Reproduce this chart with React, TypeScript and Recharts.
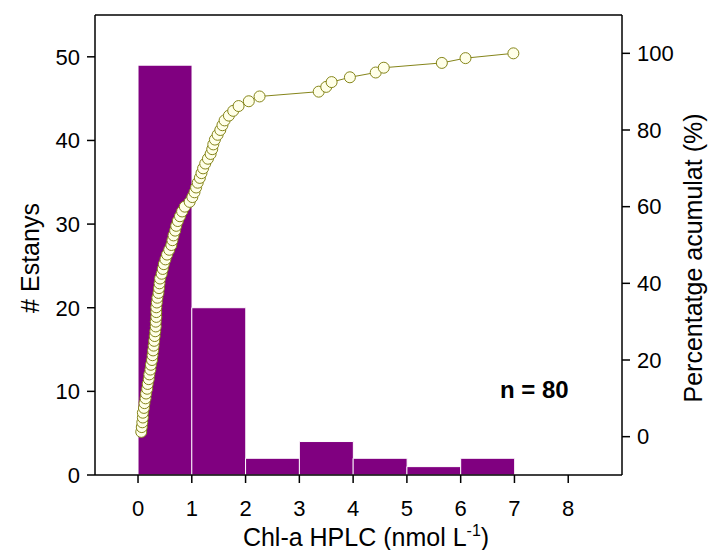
import { ComposedChart, Bar, Line, XAxis, YAxis, ReferenceLine, Customized } from 'recharts';

// histogram bins (nmol L-1) and number of lakes per bin
const binStarts = [0, 1, 2, 3, 4, 5, 6];
const binCounts = [49, 20, 2, 4, 2, 1, 2];

// sorted Chl-a values of the 80 lakes
const chlValues = [
  0.06, 0.07, 0.08, 0.09, 0.09, 0.11, 0.12, 0.14, 0.15, 0.17,
  0.18, 0.2, 0.21, 0.23, 0.24, 0.26, 0.27, 0.28, 0.29, 0.3,
  0.31, 0.32, 0.33, 0.33, 0.34, 0.34, 0.34, 0.35, 0.36, 0.38,
  0.39, 0.4, 0.41, 0.44, 0.46, 0.48, 0.51, 0.54, 0.58, 0.62,
  0.64, 0.66, 0.69, 0.71, 0.74, 0.78, 0.82, 0.87, 0.96, 1.01,
  1.05, 1.08, 1.11, 1.15, 1.18, 1.21, 1.25, 1.3, 1.35, 1.38,
  1.4, 1.43, 1.48, 1.53, 1.57, 1.61, 1.69, 1.77, 1.87, 2.06,
  2.26, 3.36, 3.5, 3.6, 3.94, 4.42, 4.57, 5.65, 6.09, 6.98,
];

// cumulative percentage for each lake
const cumPercent = [
  1.25, 2.5, 3.75, 5, 6.25, 7.5, 8.75, 10, 11.25, 12.5,
  13.75, 15, 16.25, 17.5, 18.75, 20, 21.25, 22.5, 23.75, 25,
  26.25, 27.5, 28.75, 30, 31.25, 32.5, 33.75, 35, 36.25, 37.5,
  38.75, 40, 41.25, 42.5, 43.75, 45, 46.25, 47.5, 48.75, 50,
  51.25, 52.5, 53.75, 55, 56.25, 57.5, 58.75, 60, 61.25, 62.5,
  63.75, 65, 66.25, 67.5, 68.75, 70, 71.25, 72.5, 73.75, 75,
  76.25, 77.5, 78.75, 80, 81.25, 82.5, 83.75, 85, 86.25, 87.5,
  88.75, 90, 91.25, 92.5, 93.75, 95, 96.25, 97.5, 98.75, 100,
];

const xTicks = [0, 1, 2, 3, 4, 5, 6, 7, 8];
const countTicks = [0, 10, 20, 30, 40, 50];
const pctTicks = [0, 20, 40, 60, 80, 100];

const barData = binStarts.map((s, i) => ({ x: s + 0.5, count: binCounts[i] }));
const cumData = chlValues.map((v, i) => ({ x: v, pct: cumPercent[i] }));

const FONT = '"Liberation Sans", Arial, sans-serif';
const OLIVE = '#85851a';
const tickStyle = { fontSize: 22, fill: '#000', fontFamily: FONT };

const Labels = () => (
  <g fontFamily={FONT} fill="#000">
    <text x={366} y={546} fontSize={25} textAnchor="middle">
      Chl-a HPLC (nmol L<tspan dy={-10} fontSize={16}>-1</tspan>
      <tspan dy={10}>)</tspan>
    </text>
    <text transform="translate(30,258) rotate(-90)" fontSize={25} textAnchor="middle" dominantBaseline="central">
      # Estanys
    </text>
    <text transform="translate(693,258) rotate(-90)" fontSize={25} textAnchor="middle" dominantBaseline="central">
      Percentatge acumulat (%)
    </text>
    <text x={500} y={398} fontSize={24} fontWeight="bold">
      n = 80
    </text>
  </g>
);

export default function App() {
  return (
    <div style={{ position: 'absolute', left: 0, top: 0 }}>
      <ComposedChart
        width={708}
        height={550}
        data={barData}
        margin={{ top: 15, right: 0, bottom: 0, left: 0 }}
        barCategoryGap={0}
        barGap={0}
      >
        <XAxis
          xAxisId="x"
          type="number"
          dataKey="x"
          domain={[-0.8, 9]}
          ticks={xTicks}
          allowDataOverflow
          height={75}
          tick={tickStyle}
          tickSize={8}
          tickMargin={17}
          stroke="#000"
          strokeWidth={1.5}
        />
        <XAxis
          xAxisId="cum"
          orientation="top"
          type="number"
          dataKey="x"
          domain={[-0.8, 9]}
          allowDataOverflow
          height={0}
          hide
        />
        <YAxis
          yAxisId="count"
          type="number"
          domain={[0, 55]}
          ticks={countTicks}
          allowDataOverflow
          width={95}
          tick={tickStyle}
          tickSize={8}
          tickMargin={7}
          stroke="#000"
          strokeWidth={1.5}
        />
        <YAxis
          yAxisId="pct"
          orientation="right"
          type="number"
          domain={[-10, 110]}
          ticks={pctTicks}
          allowDataOverflow
          width={86}
          tick={tickStyle}
          tickSize={8}
          tickMargin={7}
          stroke="#000"
          strokeWidth={1.5}
        />
        <ReferenceLine xAxisId="x" yAxisId="count" y={55} stroke="#000" strokeWidth={1.5} />
        <Bar
          xAxisId="x"
          yAxisId="count"
          dataKey="count"
          fill="#800080"
          stroke="#ffffff"
          strokeWidth={1}
          isAnimationActive={false}
        />
        <Line
          xAxisId="cum"
          yAxisId="pct"
          data={cumData}
          dataKey="pct"
          type="linear"
          stroke={OLIVE}
          strokeWidth={1}
          dot={{ r: 5.5, fill: '#ffffe8', stroke: OLIVE, strokeWidth: 1 }}
          activeDot={false}
          isAnimationActive={false}
        />
        <Customized component={Labels} />
      </ComposedChart>
    </div>
  );
}
